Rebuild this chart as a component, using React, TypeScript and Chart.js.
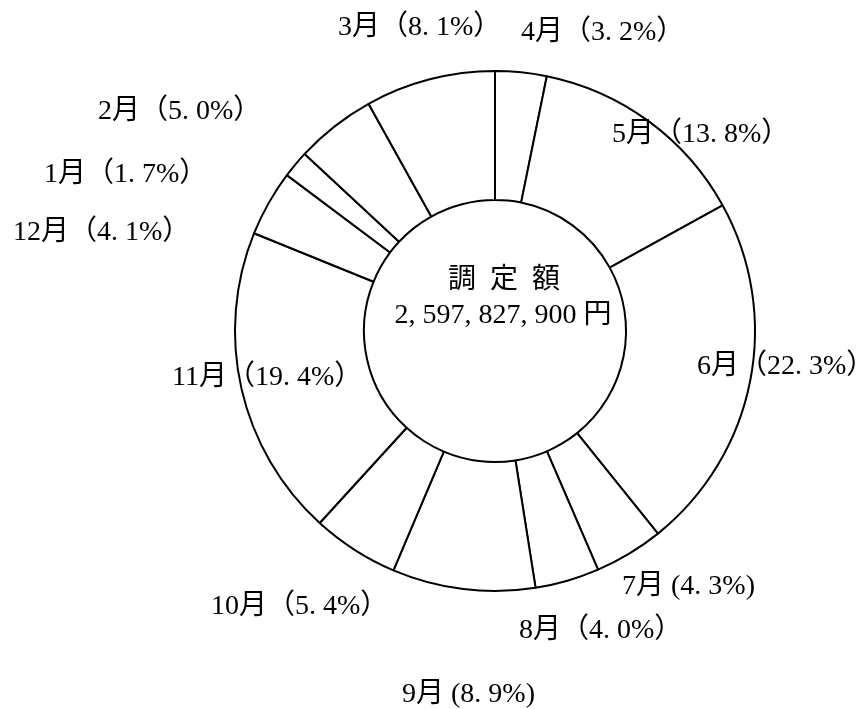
import React, { useEffect, useRef } from "react";
import { Chart, registerables } from "chart.js";

Chart.register(...registerables);

// ---- data ----
const months = ["4月", "5月", "6月", "7月", "8月", "9月", "10月", "11月", "12月", "1月", "2月", "3月"];
const shares = [3.2, 13.8, 22.3, 4.3, 4.0, 8.9, 5.4, 19.4, 4.1, 1.7, 5.0, 8.1];
const centerTitle = "調  定  額";
const centerAmount = "2, 597, 827, 900 円";

// ---- layout (label left edge / vertical middle, offsets from the ring centre, px) ----
const labelOffsets: [number, number][] = [
  [26, -298],
  [117, -196],
  [202, 36],
  [127, 256],
  [24, 300],
  [-93, 364],
  [-284, 276],
  [-323, 47],
  [-482, -98],
  [-451, -156],
  [-397, -219],
  [-157, -303],
];
const tightParens = [false, false, false, true, false, true, false, false, false, false, false, false];

const LABEL_FONT = '28px "Liberation Serif", "Noto Sans CJK JP", serif';
const CENTER_FONT = '28px "Liberation Serif", "Noto Sans CJK JP", serif';

function labelText(i: number): string {
  const v = shares[i].toFixed(1).replace(".", ". ");
  return tightParens[i] ? `${months[i]} (${v}%)` : `${months[i]}（${v}%）`;
}

const ringLabels = {
  id: "ringLabels",
  afterDraw(chart: any) {
    const arc = chart.getDatasetMeta(0).data[0];
    if (!arc) return;
    const { x, y } = arc;
    const ctx = chart.ctx;
    ctx.save();
    ctx.fillStyle = "#000";
    ctx.textBaseline = "middle";
    ctx.font = LABEL_FONT;
    ctx.textAlign = "left";
    months.forEach((_, i) => {
      ctx.fillText(labelText(i), x + labelOffsets[i][0], y + labelOffsets[i][1]);
    });
    ctx.font = CENTER_FONT;
    ctx.textAlign = "center";
    ctx.fillText(centerTitle, x + 9, y - 50);
    ctx.fillText(centerAmount, x + 8, y - 15);
    ctx.restore();
  },
};

export default function App() {
  const ref = useRef<HTMLCanvasElement | null>(null);
  useEffect(() => {
    if (!ref.current) return;
    const chart = new Chart(ref.current, {
      type: "doughnut",
      data: {
        labels: months,
        datasets: [
          {
            data: shares,
            backgroundColor: "#ffffff",
            borderColor: "#000000",
            borderWidth: 2,
            hoverBorderWidth: 2,
          },
        ],
      },
      options: {
        animation: false,
        responsive: false,
        devicePixelRatio: 1,
        radius: 260,
        cutout: "50.4%",
        rotation: 0,
        layout: { padding: { left: 122, right: 0, top: 0, bottom: 47 } },
        plugins: {
          legend: { display: false },
          tooltip: { enabled: false },
        },
        events: [],
      },
      plugins: [ringLabels],
    });
    return () => chart.destroy();
  }, []);
  return (
    <div style={{ position: "absolute", left: 0, top: 0, width: 868, height: 709, background: "#fff" }}>
      <canvas ref={ref} width={868} height={709} style={{ display: "block" }} />
    </div>
  );
}
